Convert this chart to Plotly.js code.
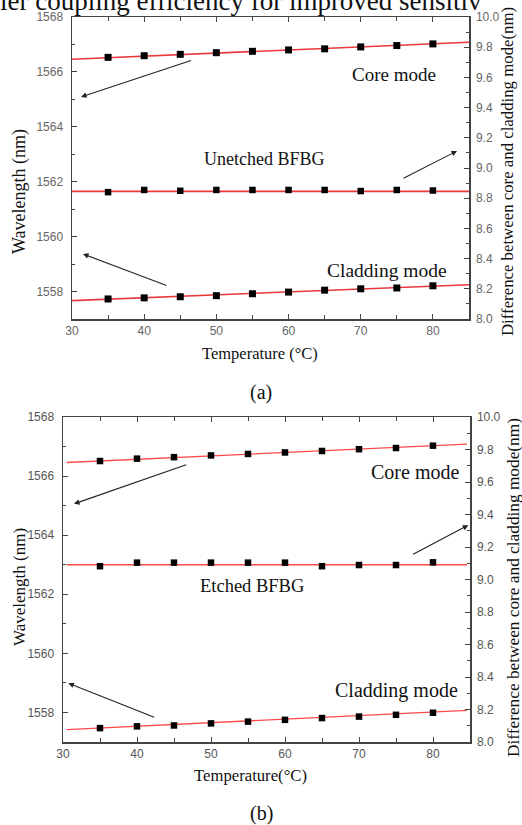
<!DOCTYPE html>
<html>
<head>
<meta charset="utf-8">
<script src="https://cdn.plot.ly/plotly-3.0.1.min.js"></script>
<style>html,body{margin:0;padding:0;background:#fff;}#chart{width:522px;height:825px;}</style>
</head>
<body>
<div id="chart"></div>
<script>
// ---- data ----
const temps = [35, 40, 45, 50, 55, 60, 65, 70, 75, 80];

// panel (a): unetched BFBG
const coreA     = [1566.53, 1566.59, 1566.64, 1566.70, 1566.75, 1566.80, 1566.84, 1566.91, 1566.96, 1567.02];
const unetched  = [1561.62, 1561.70, 1561.67, 1561.70, 1561.70, 1561.70, 1561.70, 1561.66, 1561.70, 1561.68];
const claddingA = [1557.73, 1557.77, 1557.81, 1557.85, 1557.92, 1557.98, 1558.05, 1558.10, 1558.13, 1558.21];

// panel (b): etched BFBG
const coreB     = [1566.51, 1566.59, 1566.64, 1566.70, 1566.75, 1566.80, 1566.85, 1566.91, 1566.95, 1567.03];
const etched    = [1562.95, 1563.07, 1563.07, 1563.07, 1563.07, 1563.07, 1562.95, 1562.99, 1562.99, 1563.08];
const claddingB = [1557.47, 1557.53, 1557.56, 1557.63, 1557.69, 1557.75, 1557.81, 1557.86, 1557.92, 1557.99];

// linear fit lines (end points)
const fitXA = [30, 85];
const coreFitA = [1566.46, 1567.08];
const unetchedFit = [1561.65, 1561.65];
const claddingFitA = [1557.67, 1558.25];
const fitXB = [30.5, 84.6];
const coreFitB = [1566.46, 1567.08];
const etchedFit = [1563.0, 1563.0];
const claddingFitB = [1557.42, 1558.07];

// axes ticks
const xTicks = [30, 40, 50, 60, 70, 80];
const wlTicks = [1558, 1560, 1562, 1564, 1566, 1568];
const diffTicks = [8.0, 8.2, 8.4, 8.6, 8.8, 9.0, 9.2, 9.4, 9.6, 9.8, 10.0];

// ---- drawing ----
const W = 522, H = 825;
const px = v => v / W;
const py = v => 1 - v / H;

const serif = 'Liberation Serif, Times New Roman, serif';
const sans = 'Liberation Sans, Arial, sans-serif';

function fitTrace(x, y, xa, ya, color, w) {
  return {x: x, y: y, xaxis: xa, yaxis: ya, mode: 'lines', type: 'scatter',
          line: {color: color, width: w}, hoverinfo: 'skip', showlegend: false};
}
function ptTrace(x, y, xa, ya, size) {
  return {x: x, y: y, xaxis: xa, yaxis: ya, mode: 'markers', type: 'scatter',
          marker: {symbol: 'square', size: size, color: '#000'}, showlegend: false};
}
// empty carrier so the right-hand axis is drawn
function axisCarrier(xa, ya) {
  return {x: [null], y: [null], xaxis: xa, yaxis: ya, mode: 'markers', type: 'scatter',
          marker: {opacity: 0}, hoverinfo: 'skip', showlegend: false};
}

const redA = '#e8393c', redB = '#ff4a4a';
const traces = [
  fitTrace(fitXA, coreFitA, 'x', 'y', redA, 1.6),
  fitTrace(fitXA, unetchedFit, 'x', 'y', redA, 1.6),
  fitTrace(fitXA, claddingFitA, 'x', 'y', redA, 1.6),
  ptTrace(temps, coreA, 'x', 'y', 7),
  ptTrace(temps, unetched, 'x', 'y', 6.5),
  ptTrace(temps, claddingA, 'x', 'y', 7),
  axisCarrier('x', 'y2'),
  fitTrace(fitXB, coreFitB, 'x2', 'y3', redB, 1.3),
  fitTrace(fitXB, etchedFit, 'x2', 'y3', redB, 1.3),
  fitTrace(fitXB, claddingFitB, 'x2', 'y3', redB, 1.3),
  ptTrace(temps, coreB, 'x2', 'y3', 6.5),
  ptTrace(temps, etched, 'x2', 'y3', 6.5),
  ptTrace(temps, claddingB, 'x2', 'y3', 6.5),
  axisCarrier('x2', 'y4')
];

function xAxis(domain, anchor, col) {
  return {domain: domain, anchor: anchor, range: [30, 85], tickvals: xTicks,
          ticks: 'inside', ticklen: 5, tickcolor: '#444', showline: true, linecolor: '#444',
          linewidth: 1.5, mirror: 'ticks', showgrid: false, zeroline: false,
          minor: {dtick: 5, tick0: 30, ticks: 'inside', ticklen: 4, tickcolor: '#444', showgrid: false},
          tickfont: {family: sans, size: 12, color: col}};
}
function yLeft(domain, anchor, col) {
  return {domain: domain, anchor: anchor, range: [1557, 1568], tickvals: wlTicks,
          ticks: 'inside', ticklen: 5, tickcolor: '#444', showline: true, linecolor: '#444',
          linewidth: 1.5, showgrid: false, zeroline: false, ticklabelstandoff: 5,
          minor: {dtick: 1, tick0: 1557, ticks: 'inside', ticklen: 3, tickcolor: '#444', showgrid: false},
          tickfont: {family: sans, size: 12, color: col}};
}
function yRight(over, anchor, col) {
  return {overlaying: over, anchor: anchor, side: 'right', range: [8, 10], tickvals: diffTicks,
          tickformat: '.1f', ticks: 'inside', ticklen: 5, tickcolor: '#444', showline: true,
          linecolor: '#444', linewidth: 1.5, showgrid: false, zeroline: false, ticklabelstandoff: 3,
          minor: {dtick: 0.1, tick0: 8, ticks: 'inside', ticklen: 3, tickcolor: '#444', showgrid: false},
          tickfont: {family: sans, size: 12, color: col}};
}

function arrow(xref, yref, x, y, ax, ay) {
  return {xref: xref, yref: yref, axref: xref, ayref: yref, x: x, y: y, ax: ax, ay: ay,
          text: '', showarrow: true, arrowhead: 2, arrowsize: 1, arrowwidth: 1.1, arrowcolor: '#222'};
}
function label(xref, yref, x, y, text, size) {
  return {xref: xref, yref: yref, x: x, y: y, text: text, showarrow: false,
          xanchor: 'center', yanchor: 'middle', font: {family: serif, size: size, color: '#111'}};
}
function ptext(x, y, text, size, angle) {
  return {xref: 'paper', yref: 'paper', x: px(x), y: py(y), text: text, showarrow: false,
          xanchor: 'center', yanchor: 'middle', textangle: angle || 0,
          font: {family: serif, size: size, color: '#111'}};
}

const annotations = [
  // panel (a)
  arrow('x', 'y', 31.25, 1565.09, 46.7, 1566.43),
  arrow('x', 'y', 83.34, 1563.12, 75.72, 1562.10),
  arrow('x', 'y', 31.52, 1559.37, 43.30, 1558.20),
  label('x', 'y', 74.6, 1565.92, 'Core mode', 19),
  label('x', 'y', 56.6, 1562.83, 'Unetched BFBG', 18),
  label('x', 'y', 73.6, 1558.75, 'Cladding mode', 19.5),
  // panel (b)
  arrow('x2', 'y3', 31.49, 1565.06, 46.85, 1566.40),
  arrow('x2', 'y3', 84.77, 1564.34, 77.12, 1563.33),
  arrow('x2', 'y3', 30.72, 1558.99, 42.53, 1557.82),
  label('x2', 'y3', 77.5, 1566.14, 'Core mode', 20),
  label('x2', 'y3', 55.6, 1562.29, 'Etched BFBG', 18.5),
  label('x2', 'y3', 75.1, 1558.76, 'Cladding mode', 20),
  // axis titles
  ptext(20, 192, 'Wavelength (nm)', 18, -90),
  ptext(260, 353, 'Temperature (°C)', 16.5),
  ptext(507, 172, 'Difference between core and cladding mode(nm)', 16.8, -90),
  ptext(19, 587, 'Wavelength (nm)', 17, -90),
  ptext(250, 775, 'Temperature(°C)', 16.7),
  ptext(513, 588, 'Difference between core and cladding mode(nm)', 17.3, -90),
  // panel captions
  ptext(261, 393, '(a)', 20),
  ptext(261, 813, '(b)', 20),
  // cropped line of the surrounding text
  {xref: 'paper', yref: 'paper', x: px(-2), y: py(1), text: 'ler coupling efficiency for improved sensitiv',
   showarrow: false, xanchor: 'left', yanchor: 'middle', font: {family: serif, size: 27, color: '#111'}}
];

const layout = {
  width: W, height: H, margin: {l: 0, r: 0, t: 0, b: 0},
  paper_bgcolor: '#fff', plot_bgcolor: '#fff', showlegend: false,
  xaxis: xAxis([px(72), px(469)], 'y', '#666'),
  yaxis: yLeft([py(319), py(17)], 'x', '#666'),
  yaxis2: yRight('y', 'x', '#666'),
  xaxis2: xAxis([px(63), px(470)], 'y3', '#555'),
  yaxis3: yLeft([py(742), py(417)], 'x2', '#555'),
  yaxis4: yRight('y3', 'x2', '#555'),
  annotations: annotations
};

Plotly.newPlot('chart', traces, layout, {displayModeBar: false, staticPlot: true});
</script>
</body>
</html>
